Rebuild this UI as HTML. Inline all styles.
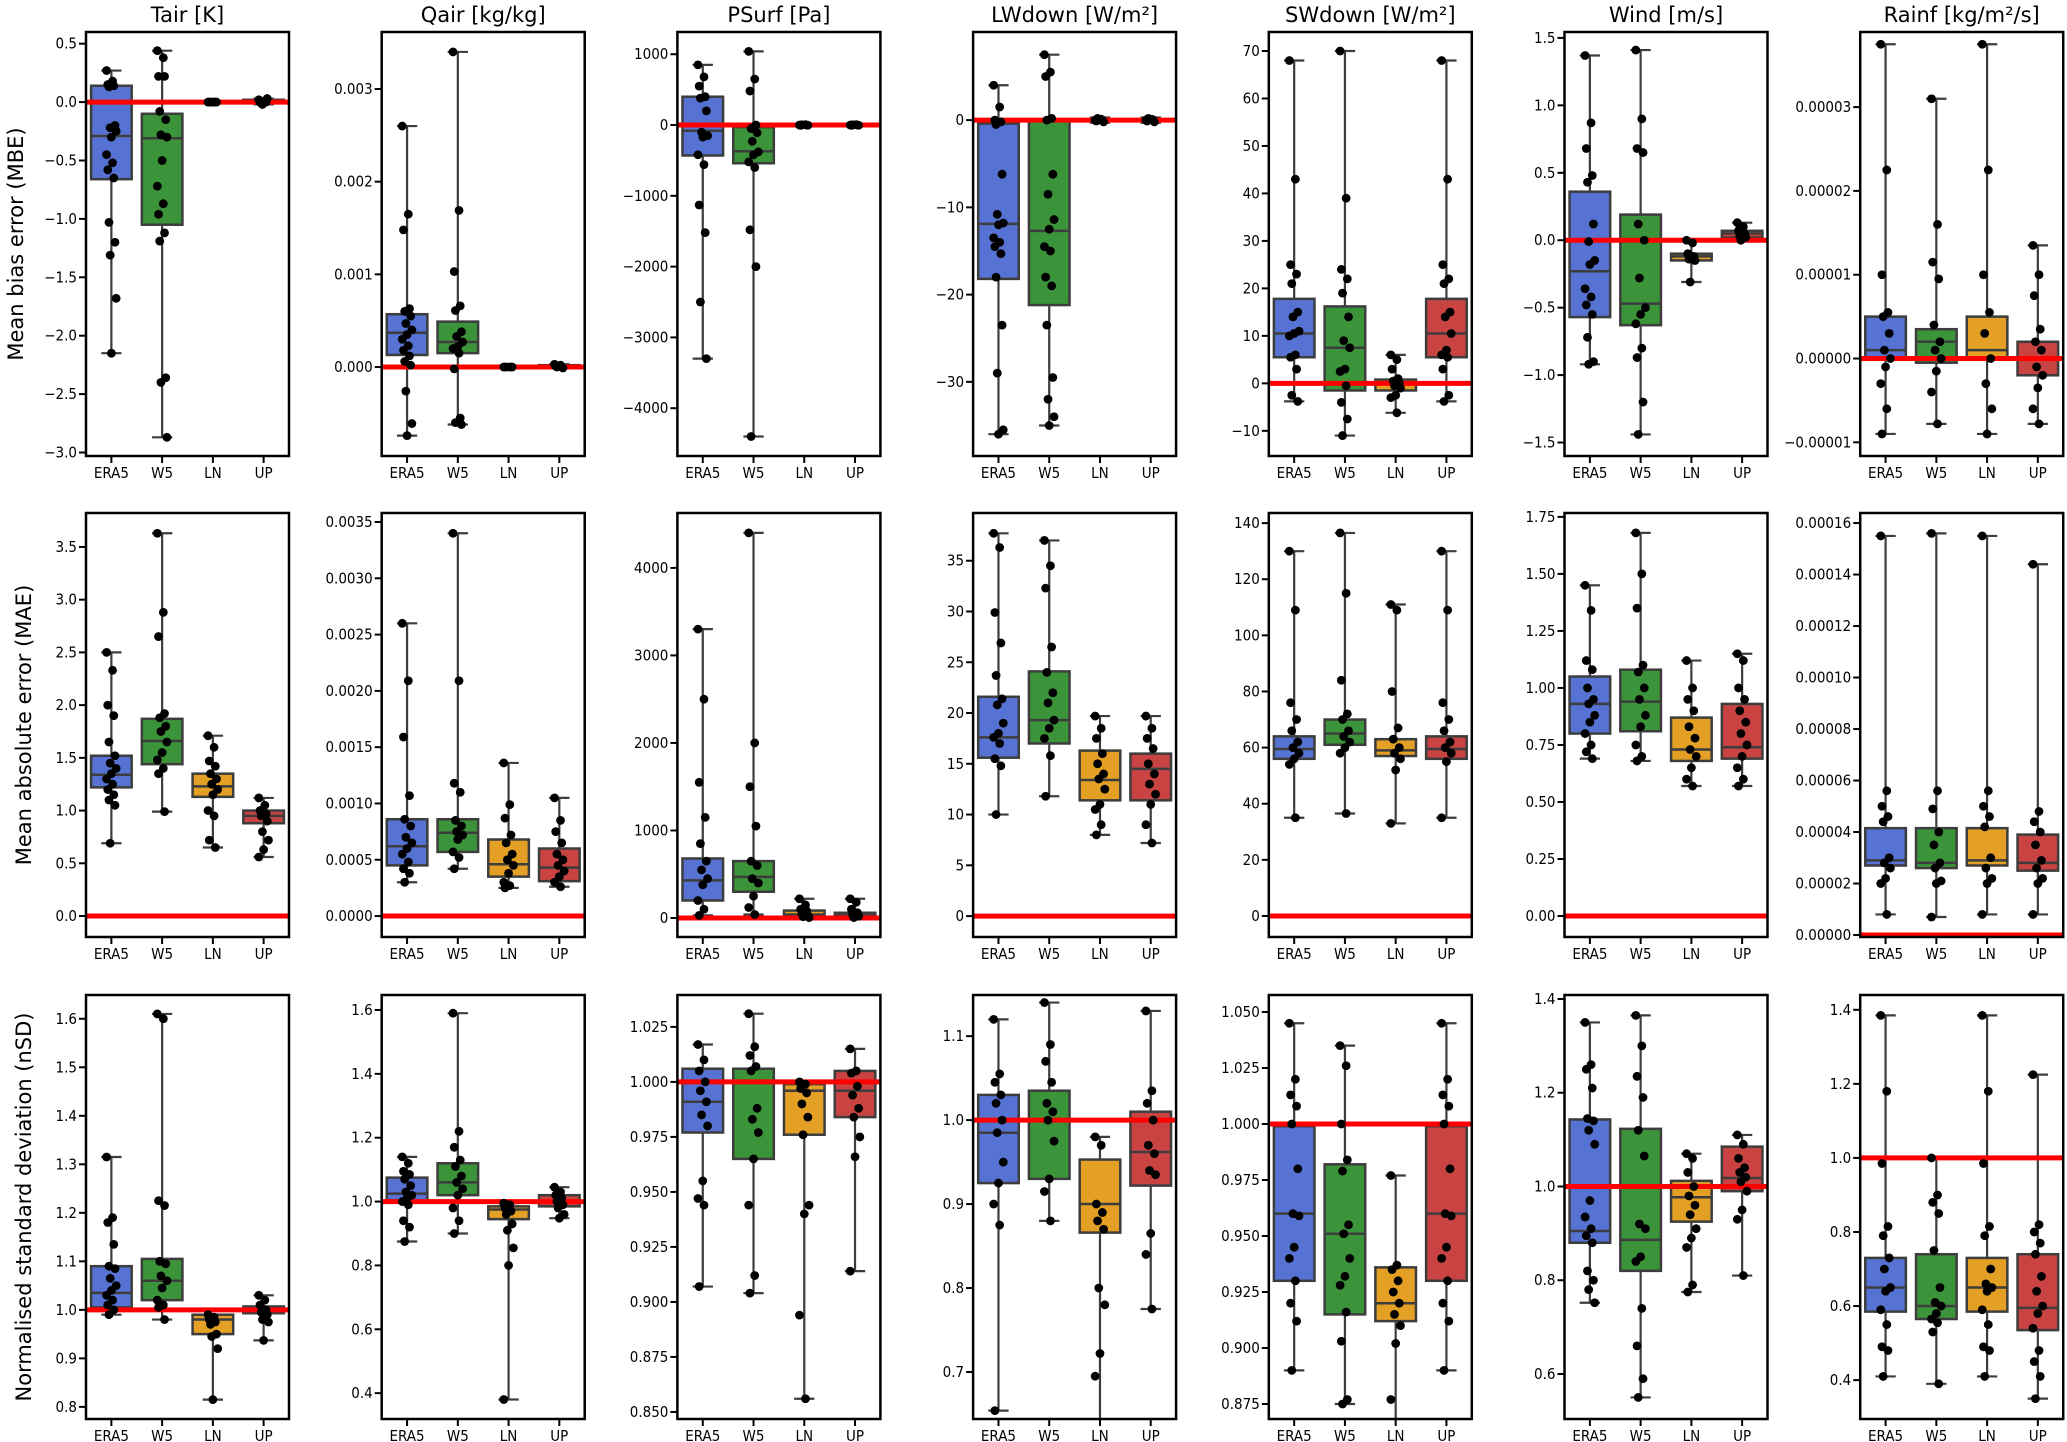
<!DOCTYPE html>
<html><head><meta charset="utf-8">
<style>
html,body{margin:0;padding:0;background:#fff;}
svg{display:block;}
text{font-family:"DejaVu Sans","Liberation Sans",sans-serif;fill:#000;}
.tk{font-size:15px;font-stretch:condensed;font-family:"DejaVu Sans Condensed","DejaVu Sans",sans-serif;}
</style></head>
<body>
<svg id="fig" width="2067" height="1442" viewBox="0 0 2067 1442" xmlns="http://www.w3.org/2000/svg"></svg>
<script>
const models = ["ERA5","W5","LN","UP"];
const modelColors = ["#5673d3","#3b9439","#e3a025","#c84342"];
const colTitles = ["Tair [K]","Qair [kg/kg]","PSurf [Pa]","LWdown [W/m²]","SWdown [W/m²]","Wind [m/s]","Rainf [kg/m²/s]"];
const rowLabels = ["Mean bias error (MBE)","Mean absolute error (MAE)","Normalised standard deviation (nSD)"];
const refValues = [0,0,1];

// ---- Row 1: MBE  (boxes: [whiskerLo, q1, median, q3, whiskerHi]) ----
const tairMbeBoxes = [[-2.15,-0.66,-0.29,0.14,0.27],[-2.87,-1.05,-0.31,-0.1,0.44],[-0.01,-0.005,0,0.005,0.01],[-0.02,-0.01,0,0.02,0.03]];
const tairMbePts = [[0.27,0.18,0.15,0.14,0.13,-0.2,-0.22,-0.25,-0.3,-0.45,-0.52,-0.58,-0.65,-1.03,-1.2,-1.31,-1.68,-2.15],[0.44,0.38,0.22,0.22,-0.08,-0.15,-0.28,-0.3,-0.5,-0.72,-0.87,-0.96,-1.12,-1.19,-2.36,-2.4,-2.87],[0,0,0,0,0,0,0],[0.02,0.01,0,0,-0.01,0.03,-0.02]];
const qairMbeBoxes = [[-0.00074,0.00013,0.00037,0.00057,0.0026],[-0.00062,0.00015,0.00027,0.00049,0.0034],[-0.000005,0,0,0.000005,0.00001],[-0.00001,0,0.00001,0.00002,0.00003]];
const qairMbePts = [[0.0026,0.00165,0.00148,0.00063,0.0006,0.00055,0.00047,0.0004,0.00035,0.0003,0.00023,0.00018,0.00012,0.00006,0.00002,-0.00026,-0.00061,-0.00074],[0.0034,0.00169,0.00103,0.00066,0.00061,0.00038,0.00033,0.00027,0.00022,0.0002,0.00015,-0.00002,-0.00055,-0.0006,-0.00062],[0,0,0,0,0,0],[0.00003,0.00002,0.00001,0,0,-0.00001]];
const psurfMbeBoxes = [[-3300,-430,-80,400,850],[-4400,-540,-370,-30,1040],[-10,-5,0,5,10],[-10,-5,0,5,10]];
const psurfMbePts = [[850,680,550,400,380,200,-100,-150,-170,-420,-560,-1130,-1520,-2500,-3300],[1040,650,480,0,-50,-110,-230,-380,-420,-520,-600,-1480,-2000,-4400],[0,5,-5,0,3,-3],[0,5,-5,0,3,-3]];
const lwMbeBoxes = [[-36,-18.2,-11.9,-0.4,4],[-35,-21.2,-12.7,0,7.5],[-0.3,-0.1,0,0.1,0.3],[-0.3,-0.1,0,0.1,0.3]];
const lwMbePts = [[4,1.5,0,-0.2,-0.5,-6.2,-10.8,-11.8,-12,-13.5,-14,-14.5,-15.3,-18,-23.5,-29,-35.5,-36],[7.5,5.5,5,0.2,0,-6.2,-8.5,-11.4,-12.5,-14.5,-15,-18,-19,-23.5,-29.5,-32,-34,-35],[0,0.1,-0.1,0,0.2,-0.2],[0,0.1,-0.1,0,0.2,-0.2]];
const swMbeBoxes = [[-3.8,5.5,10.5,17.8,68],[-11,-1.5,7.5,16.2,70],[-6.2,-1.5,0,0.8,6],[-3.8,5.5,10.5,17.8,68]];
const swMbePts = [[68,43,25,23,21,15,14,11,10.5,10,6,5.5,3,-2.5,-3.8],[70,39,24,22,19,14,9,7.5,3,2.5,-0.5,-4,-7.5,-11],[6,5,3,1,0.5,0,-0.5,-1,-2.5,-3,-6.2],[68,43,25,22,21,15,14,10.5,7,6,5.5,3,-2.5,-3.8]];
const windMbeBoxes = [[-0.92,-0.57,-0.23,0.36,1.37],[-1.44,-0.63,-0.47,0.19,1.41],[-0.31,-0.15,-0.12,-0.1,0.0],[0.0,0.02,0.05,0.07,0.13]];
const windMbePts = [[1.37,0.87,0.68,0.48,0.43,0.12,-0.01,-0.15,-0.18,-0.36,-0.42,-0.48,-0.55,-0.72,-0.9,-0.92],[1.41,0.9,0.68,0.65,0.12,0,-0.28,-0.5,-0.55,-0.62,-0.8,-0.87,-1.2,-1.44],[0,-0.02,-0.1,-0.12,-0.14,-0.15,-0.31],[0.13,0.1,0.07,0.05,0.03,0.02,0.0]];
const rainMbeBoxes = [[-0.9e-5,0,0.1e-5,0.5e-5,3.75e-5],[-0.78e-5,-0.05e-5,0.2e-5,0.35e-5,3.1e-5],[-0.9e-5,0,0.1e-5,0.5e-5,3.75e-5],[-0.78e-5,-0.2e-5,0,0.2e-5,1.35e-5]];
const rainMbePts = [[3.75e-5,2.25e-5,1.0e-5,0.55e-5,0.5e-5,0.3e-5,0.1e-5,0,-0.1e-5,-0.3e-5,-0.6e-5,-0.9e-5],[3.1e-5,1.6e-5,1.15e-5,0.95e-5,0.4e-5,0.2e-5,0.1e-5,0,-0.15e-5,-0.4e-5,-0.78e-5],[3.75e-5,2.25e-5,1.0e-5,0.55e-5,0.3e-5,0,-0.3e-5,-0.6e-5,-0.9e-5],[1.35e-5,1.0e-5,0.75e-5,0.35e-5,0.2e-5,0.1e-5,-0.1e-5,-0.2e-5,-0.35e-5,-0.6e-5,-0.78e-5]];

// ---- Row 2: MAE ----
const tairMaeBoxes = [[0.69,1.22,1.34,1.52,2.5],[0.99,1.44,1.66,1.87,3.63],[0.65,1.13,1.23,1.35,1.71],[0.56,0.88,0.95,1.0,1.12]];
const tairMaePts = [[2.5,2.33,2.0,1.9,1.65,1.52,1.45,1.4,1.35,1.3,1.25,1.2,1.15,1.1,1.05,0.69],[3.63,2.88,2.65,1.92,1.88,1.8,1.75,1.65,1.55,1.48,1.4,1.35,0.99],[1.71,1.6,1.47,1.42,1.35,1.3,1.25,1.2,1.15,1.0,0.95,0.72,0.65],[1.12,1.05,1.0,0.97,0.95,0.9,0.8,0.72,0.63,0.56]];
const qairMaeBoxes = [[0.0003,0.00045,0.00062,0.00086,0.0026],[0.00042,0.00057,0.00074,0.00086,0.0034],[0.00025,0.00035,0.00046,0.00068,0.00136],[0.00026,0.00031,0.00043,0.0006,0.00105]];
const qairMaePts = [[0.0026,0.00209,0.00159,0.00107,0.00086,0.0008,0.0007,0.00065,0.0006,0.00055,0.00048,0.00042,0.00038,0.0003],[0.0034,0.00209,0.00118,0.0011,0.00085,0.0008,0.00075,0.00072,0.00068,0.00057,0.00052,0.00042],[0.00136,0.00099,0.00087,0.00072,0.00065,0.00055,0.0005,0.00045,0.00038,0.0003,0.00027,0.00025],[0.00105,0.00085,0.00075,0.00065,0.00055,0.0005,0.00045,0.0004,0.00035,0.0003,0.00026]];
const psurfMaeBoxes = [[30,200,430,680,3300],[40,300,470,650,4400],[5,15,40,85,220],[5,10,30,60,220]];
const psurfMaePts = [[3300,2500,1550,1150,850,650,550,450,380,200,100,30],[4400,2000,1500,1050,650,600,450,400,250,120,40],[220,150,100,80,50,30,15,5],[220,180,100,60,40,20,5]];
const lwMaeBoxes = [[10,15.6,17.6,21.6,37.7],[11.8,17,19.3,24.1,37],[8,11.4,13.4,16.3,19.7],[7.2,11.4,14.5,16,19.7]];
const lwMaePts = [[37.7,36.3,29.9,26.9,23.7,21.4,20.8,19,18,17.6,17,15.5,14.8,10],[37,34.5,32.3,26.5,24,22,21,19.3,18.5,17.5,15.8,11.8],[19.7,18.5,17.5,16,15,14,13.5,12.5,11,10.5,9,8],[19.7,18.5,17.5,16.5,15,14,13,12,11,9,7.2]];
const swMaeBoxes = [[35,56,59.5,64,130],[36.5,61,65,70,136.5],[33,57,59,63,111],[35,56,59.5,64,130]];
const swMaePts = [[130,109,76,70,66,62,60,58,56,54,35],[136.5,115,84,72,70,66,64,62,60,58,36.5],[111,109,80,67,63,60,58,56,52,33],[130,109,76,70,66,62,60,58,55,35]];
const windMaeBoxes = [[0.69,0.8,0.93,1.05,1.45],[0.68,0.81,0.94,1.08,1.68],[0.57,0.68,0.73,0.87,1.12],[0.57,0.69,0.74,0.93,1.15]];
const windMaePts = [[1.45,1.34,1.12,1.08,1.0,0.95,0.93,0.88,0.85,0.8,0.75,0.72,0.69],[1.68,1.5,1.35,1.1,1.07,1.0,0.95,0.88,0.83,0.75,0.7,0.68],[1.12,1.0,0.95,0.9,0.83,0.78,0.73,0.7,0.65,0.6,0.57],[1.15,1.12,1.0,0.95,0.9,0.85,0.8,0.75,0.7,0.65,0.6,0.57]];
const rainMaeBoxes = [[0.8e-5,2.7e-5,2.9e-5,4.15e-5,15.5e-5],[0.7e-5,2.6e-5,2.8e-5,4.15e-5,15.6e-5],[0.8e-5,2.7e-5,2.9e-5,4.15e-5,15.5e-5],[0.8e-5,2.5e-5,2.8e-5,3.9e-5,14.4e-5]];
const rainMaePts = [[15.5e-5,5.6e-5,5.0e-5,4.6e-5,4.4e-5,3.0e-5,2.8e-5,2.6e-5,2.2e-5,2.0e-5,0.8e-5],[15.6e-5,5.6e-5,4.9e-5,4.0e-5,3.5e-5,2.8e-5,2.6e-5,2.1e-5,2.0e-5,0.7e-5],[15.5e-5,5.6e-5,5.0e-5,4.6e-5,4.2e-5,3.0e-5,2.6e-5,2.2e-5,2.0e-5,0.8e-5],[14.4e-5,4.8e-5,4.4e-5,4.0e-5,3.5e-5,2.9e-5,2.6e-5,2.2e-5,2.0e-5,0.8e-5]];

// ---- Row 3: nSD ----
const tairSdBoxes = [[0.99,1.005,1.035,1.09,1.315],[0.98,1.02,1.06,1.105,1.61],[0.815,0.95,0.98,0.99,0.99],[0.937,0.993,1.0,1.007,1.03]];
const tairSdPts = [[1.315,1.19,1.18,1.135,1.09,1.085,1.065,1.05,1.04,1.03,1.02,1.01,1.0,0.99],[1.61,1.6,1.225,1.215,1.1,1.095,1.07,1.06,1.045,1.02,1.01,1.005,0.98],[0.99,0.985,0.98,0.975,0.97,0.95,0.945,0.92,0.815],[1.03,1.02,1.01,1.0,0.995,0.99,0.98,0.975,0.937]];
const qairSdBoxes = [[0.875,1.0,1.025,1.075,1.14],[0.9,1.02,1.06,1.12,1.59],[0.38,0.945,0.975,0.985,0.995],[0.948,0.985,1.0,1.02,1.045]];
const qairSdPts = [[1.14,1.12,1.095,1.085,1.07,1.05,1.03,1.02,1.01,1.0,0.99,0.94,0.92,0.875],[1.59,1.22,1.17,1.13,1.11,1.08,1.06,1.04,1.02,0.98,0.94,0.9],[0.995,0.99,0.98,0.97,0.96,0.93,0.91,0.855,0.8,0.38],[1.045,1.03,1.02,1.01,1.0,0.99,0.98,0.96,0.948]];
const psurfSdBoxes = [[0.907,0.977,0.991,1.006,1.017],[0.904,0.965,1.0,1.006,1.031],[0.856,0.976,0.996,0.999,1.0],[0.914,0.984,0.996,1.005,1.015]];
const psurfSdPts = [[1.017,1.01,1.005,1.0,0.996,0.991,0.985,0.98,0.955,0.947,0.944,0.907],[1.031,1.016,1.012,1.007,1.005,0.988,0.983,0.977,0.965,0.944,0.912,0.904],[1.0,0.999,0.997,0.995,0.99,0.984,0.976,0.944,0.94,0.894,0.856],[1.015,1.005,1.004,0.998,0.994,0.988,0.984,0.975,0.966,0.914]];
const lwSdBoxes = [[0.654,0.925,0.985,1.03,1.12],[0.88,0.93,1.0,1.035,1.14],[0.637,0.866,0.9,0.953,0.98],[0.775,0.922,0.962,1.01,1.13]];
const lwSdPts = [[1.12,1.055,1.045,1.03,1.02,1.0,0.985,0.95,0.925,0.9,0.875,0.654],[1.14,1.09,1.07,1.045,1.02,1.01,1.0,0.975,0.93,0.915,0.88],[0.98,0.97,0.9,0.89,0.88,0.87,0.8,0.78,0.722,0.695,0.637],[1.13,1.035,1.02,1.0,0.97,0.96,0.94,0.935,0.865,0.84,0.775]];
const swSdBoxes = [[0.89,0.93,0.96,0.999,1.045],[0.875,0.915,0.951,0.982,1.035],[0.861,0.912,0.92,0.936,0.977],[0.89,0.93,0.96,0.999,1.045]];
const swSdPts = [[1.045,1.02,1.013,1.008,1.0,0.98,0.96,0.959,0.945,0.94,0.93,0.92,0.912,0.89],[1.035,1.026,1.0,0.984,0.979,0.955,0.951,0.94,0.932,0.928,0.916,0.903,0.877,0.875],[0.977,0.937,0.935,0.93,0.925,0.92,0.915,0.91,0.902,0.877,0.861],[1.045,1.02,1.013,1.008,1.0,0.98,0.96,0.959,0.945,0.94,0.93,0.92,0.912,0.89]];
const windSdBoxes = [[0.752,0.88,0.905,1.143,1.35],[0.55,0.82,0.886,1.123,1.365],[0.775,0.925,0.977,1.012,1.07],[0.81,0.99,1.018,1.085,1.11]];
const windSdPts = [[1.35,1.26,1.25,1.21,1.145,1.14,1.12,1.09,0.97,0.935,0.91,0.895,0.88,0.82,0.8,0.78,0.752],[1.365,1.3,1.235,1.19,1.12,1.065,0.92,0.91,0.85,0.84,0.74,0.66,0.59,0.55],[1.07,1.06,1.03,1.0,0.98,0.96,0.94,0.91,0.89,0.87,0.79,0.775],[1.11,1.09,1.06,1.04,1.03,1.02,1.01,0.99,0.95,0.93,0.81]];
const rainSdBoxes = [[0.41,0.585,0.65,0.73,1.385],[0.39,0.565,0.6,0.74,1.0],[0.41,0.585,0.65,0.73,1.385],[0.35,0.535,0.595,0.74,1.225]];
const rainSdPts = [[1.385,1.18,0.985,0.815,0.79,0.73,0.7,0.65,0.64,0.59,0.55,0.49,0.48,0.41],[1.0,0.9,0.88,0.85,0.75,0.65,0.61,0.6,0.58,0.565,0.555,0.53,0.39],[1.385,1.18,0.985,0.815,0.79,0.7,0.66,0.65,0.64,0.59,0.55,0.49,0.48,0.41],[1.225,0.82,0.8,0.77,0.74,0.68,0.64,0.6,0.58,0.54,0.48,0.45,0.41,0.35]];

// ---- Tick arrays ----
const ticksR1 = [[-3,-2.5,-2,-1.5,-1,-0.5,0,0.5],[0,0.001,0.002,0.003],[-4000,-3000,-2000,-1000,0,1000],[-30,-20,-10,0],[-10,0,10,20,30,40,50,60,70],[-1.5,-1,-0.5,0,0.5,1,1.5],[-0.00001,0,0.00001,0.00002,0.00003]];
const ticksR2 = [[0,0.5,1,1.5,2,2.5,3,3.5],[0,0.0005,0.001,0.0015,0.002,0.0025,0.003,0.0035],[0,1000,2000,3000,4000],[0,5,10,15,20,25,30,35],[0,20,40,60,80,100,120,140],[0,0.25,0.5,0.75,1,1.25,1.5,1.75],[0,0.00002,0.00004,0.00006,0.00008,0.0001,0.00012,0.00014,0.00016]];
const ticksR3 = [[0.8,0.9,1,1.1,1.2,1.3,1.4,1.5,1.6],[0.4,0.6,0.8,1,1.2,1.4,1.6],[0.85,0.875,0.9,0.925,0.95,0.975,1,1.025],[0.7,0.8,0.9,1,1.1],[0.875,0.9,0.925,0.95,0.975,1,1.025,1.05],[0.6,0.8,1,1.2,1.4],[0.4,0.6,0.8,1,1.2,1.4]];
const decR1 = [1,3,0,0,0,1,5];
const decR2 = [1,4,0,0,0,2,5];
const decR3 = [1,1,3,1,3,1,1];
// axis limits [min,max]
const limR1 = [[-3.03,0.6],[-0.00096,0.003615],[-4675,1314],[-38.5,10.1],[-15.3,74],[-1.60,1.544],[-1.163e-5,3.896e-5]];
const limR2 = [[-0.199,3.822],[-0.000186,0.00358],[-217,4627],[-2.06,39.7],[-7.5,143.6],[-0.092,1.767],[-7.7e-7,1.639e-4]];
const limR3 = [[0.775,1.649],[0.319,1.647],[0.8468,1.0395],[0.644,1.149],[0.8683,1.0576],[0.504,1.4085],[0.295,1.44]];

const boxesByRow = [
 [tairMbeBoxes,qairMbeBoxes,psurfMbeBoxes,lwMbeBoxes,swMbeBoxes,windMbeBoxes,rainMbeBoxes],
 [tairMaeBoxes,qairMaeBoxes,psurfMaeBoxes,lwMaeBoxes,swMaeBoxes,windMaeBoxes,rainMaeBoxes],
 [tairSdBoxes,qairSdBoxes,psurfSdBoxes,lwSdBoxes,swSdBoxes,windSdBoxes,rainSdBoxes]];
const ptsByRow = [
 [tairMbePts,qairMbePts,psurfMbePts,lwMbePts,swMbePts,windMbePts,rainMbePts],
 [tairMaePts,qairMaePts,psurfMaePts,lwMaePts,swMaePts,windMaePts,rainMaePts],
 [tairSdPts,qairSdPts,psurfSdPts,lwSdPts,swSdPts,windSdPts,rainSdPts]];
const ticksByRow=[ticksR1,ticksR2,ticksR3], decByRow=[decR1,decR2,decR3], limByRow=[limR1,limR2,limR3];

const NS="http://www.w3.org/2000/svg";
const svg=document.getElementById('fig');
function mk(tag,attrs,parent){const e=document.createElementNS(NS,tag);for(const k in attrs)e.setAttribute(k,attrs[k]);(parent||svg).appendChild(e);return e;}
const PW=203, PH=424;
const rowTop=[32,513,995];
function colLeft(c){return 86+c*295.7;}
function fmt(v,d){let s=Math.abs(v).toFixed(d);if(v<0&&parseFloat(s)!==0)s="\u2212"+s;return s;}

for(let c=0;c<7;c++){
  const t=mk('text',{x:colLeft(c)+PW/2,y:22,'text-anchor':'middle','font-size':'21'});
  t.textContent=colTitles[c];
  
  
}
const ylx=[16,24,24];
for(let r=0;r<3;r++){
  const cy=rowTop[r]+PH/2;
  const t=mk('text',{x:ylx[r],y:cy,'text-anchor':'middle','dominant-baseline':'central','font-size':'21',transform:`rotate(-90 ${ylx[r]} ${cy})`});
  t.textContent=rowLabels[r];
  
  
}

for(let r=0;r<3;r++){
 for(let c=0;c<7;c++){
  const L=colLeft(c), T=rowTop[r];
  const lim=limByRow[r][c];
  const y=v=>T+PH-(v-lim[0])/(lim[1]-lim[0])*PH;
  const xc=i=>L+(i+0.5)*PW/4;
  const g=mk('g',{});
  
  
  const cp=mk('clipPath',{id:'cp'+r+'_'+c},g);
  mk('rect',{x:L,y:T,width:PW,height:PH},cp);
  const inner=mk('g',{'clip-path':`url(#cp${r}_${c})`},g);
  const boxes=boxesByRow[r][c], pts=ptsByRow[r][c];
  const bw=PW/4*0.8;
  for(let i=0;i<4;i++){
    const b=boxes[i], x=xc(i);
    const w=mk('line',{x1:x,x2:x,y1:y(b[0]),y2:y(b[4]),stroke:'#3d3d3d','stroke-width':2.2},inner);
    
    
    mk('line',{x1:x-bw/4,x2:x+bw/4,y1:y(b[0]),y2:y(b[0]),stroke:'#3d3d3d','stroke-width':2.2},inner);
    mk('line',{x1:x-bw/4,x2:x+bw/4,y1:y(b[4]),y2:y(b[4]),stroke:'#3d3d3d','stroke-width':2.2},inner);
    const bx=mk('rect',{x:x-bw/2,y:y(b[3]),width:bw,height:Math.max(1,y(b[1])-y(b[3])),fill:modelColors[i],stroke:'#3d3d3d','stroke-width':2.5},inner);
    
    
    mk('line',{x1:x-bw/2,x2:x+bw/2,y1:y(b[2]),y2:y(b[2]),stroke:'#3d3d3d','stroke-width':2.5},inner);
  }
  const ref=mk('line',{x1:L,x2:L+PW,y1:y(refValues[r]),y2:y(refValues[r]),stroke:'#ff0000','stroke-width':5},inner);
  
  
  for(let i=0;i<4;i++){
    pts[i].forEach((v,k)=>{
      const j=(((k*5)%9)-4)*1.2;
      const p=mk('circle',{cx:xc(i)+j,cy:y(v),r:4.4,fill:'#000'},inner);
      
      
    });
  }
  const fr=mk('rect',{x:L,y:T,width:PW,height:PH,fill:'none',stroke:'#000','stroke-width':2.5},g);
  
  
  ticksByRow[r][c].forEach(v=>{
    const yy=y(v);
    mk('line',{x1:L-7,x2:L,y1:yy,y2:yy,stroke:'#000','stroke-width':2},g);
    const t=mk('text',{x:L-9,y:yy,'text-anchor':'end','dominant-baseline':'central',class:'tk'},g);
    t.textContent=fmt(v,decByRow[r][c]);
    
    
  });
  for(let i=0;i<4;i++){
    mk('line',{x1:xc(i),x2:xc(i),y1:T+PH,y2:T+PH+7,stroke:'#000','stroke-width':2},g);
    const t=mk('text',{x:xc(i),y:T+PH+22,'text-anchor':'middle',class:'tk'},g);
    t.textContent=models[i];
    
    
  }
 }
}
</script>
</body></html>
